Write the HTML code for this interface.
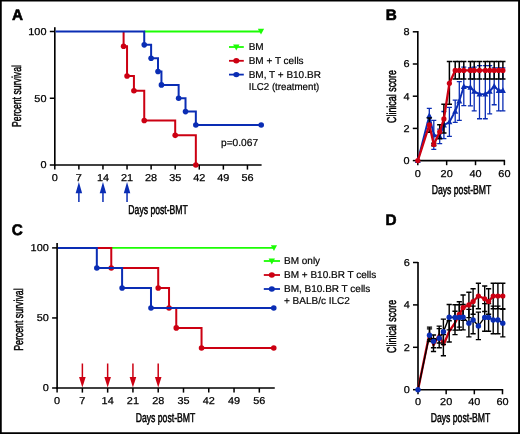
<!DOCTYPE html>
<html lang="en">
<head>
<meta charset="utf-8">
<title>Survival and clinical score after BMT</title>
<style>
html,body{margin:0;padding:0;background:#fff;}
body{width:520px;height:434px;overflow:hidden;}
svg{display:block;font-family:"Liberation Sans",sans-serif;text-rendering:geometricPrecision;}
</style>
</head>
<body>
<svg width="520" height="434" viewBox="0 0 520 434">
<rect x="0" y="0" width="520" height="434" fill="#fff"/>
<text x="11.90" y="20.40" font-size="15.3" text-anchor="start" font-weight="bold" fill="#000" stroke="#000" stroke-width="0.6" stroke-linejoin="round">A</text>
<path d="M54.8,27.2 V165.825" stroke="#000" stroke-width="1.65" fill="none"/>
<path d="M53.974999999999994,165 H261.6" stroke="#000" stroke-width="1.65" fill="none"/>
<path d="M49.8,165.0 H54.8" stroke="#000" stroke-width="1.5"/>
<text transform="translate(46.50,168.40) scale(1.09,1)" font-size="10.0" text-anchor="end" font-weight="normal" fill="#000" stroke="#000" stroke-width="0.25">0</text>
<path d="M49.8,98.25 H54.8" stroke="#000" stroke-width="1.5"/>
<text transform="translate(46.50,101.65) scale(1.09,1)" font-size="10.0" text-anchor="end" font-weight="normal" fill="#000" stroke="#000" stroke-width="0.25">50</text>
<path d="M49.8,31.5 H54.8" stroke="#000" stroke-width="1.5"/>
<text transform="translate(46.50,34.90) scale(1.09,1)" font-size="10.0" text-anchor="end" font-weight="normal" fill="#000" stroke="#000" stroke-width="0.25">100</text>
<path d="M54.80,165 V169.6" stroke="#000" stroke-width="1.5"/>
<text transform="translate(54.80,181.00) scale(1.09,1)" font-size="10.0" text-anchor="middle" font-weight="normal" fill="#000" stroke="#000" stroke-width="0.25">0</text>
<path d="M78.88,165 V169.6" stroke="#000" stroke-width="1.5"/>
<text transform="translate(78.88,181.00) scale(1.09,1)" font-size="10.0" text-anchor="middle" font-weight="normal" fill="#000" stroke="#000" stroke-width="0.25">7</text>
<path d="M102.96,165 V169.6" stroke="#000" stroke-width="1.5"/>
<text transform="translate(102.96,181.00) scale(1.09,1)" font-size="10.0" text-anchor="middle" font-weight="normal" fill="#000" stroke="#000" stroke-width="0.25">14</text>
<path d="M127.04,165 V169.6" stroke="#000" stroke-width="1.5"/>
<text transform="translate(127.04,181.00) scale(1.09,1)" font-size="10.0" text-anchor="middle" font-weight="normal" fill="#000" stroke="#000" stroke-width="0.25">21</text>
<path d="M151.12,165 V169.6" stroke="#000" stroke-width="1.5"/>
<text transform="translate(151.12,181.00) scale(1.09,1)" font-size="10.0" text-anchor="middle" font-weight="normal" fill="#000" stroke="#000" stroke-width="0.25">28</text>
<path d="M175.20,165 V169.6" stroke="#000" stroke-width="1.5"/>
<text transform="translate(175.20,181.00) scale(1.09,1)" font-size="10.0" text-anchor="middle" font-weight="normal" fill="#000" stroke="#000" stroke-width="0.25">35</text>
<path d="M199.28,165 V169.6" stroke="#000" stroke-width="1.5"/>
<text transform="translate(199.28,181.00) scale(1.09,1)" font-size="10.0" text-anchor="middle" font-weight="normal" fill="#000" stroke="#000" stroke-width="0.25">42</text>
<path d="M223.36,165 V169.6" stroke="#000" stroke-width="1.5"/>
<text transform="translate(223.36,181.00) scale(1.09,1)" font-size="10.0" text-anchor="middle" font-weight="normal" fill="#000" stroke="#000" stroke-width="0.25">49</text>
<path d="M247.44,165 V169.6" stroke="#000" stroke-width="1.5"/>
<text transform="translate(247.44,181.00) scale(1.09,1)" font-size="10.0" text-anchor="middle" font-weight="normal" fill="#000" stroke="#000" stroke-width="0.25">56</text>
<path d="M144.24,31.50 H261.20" stroke="#1cfd05" stroke-width="1.8" fill="none" stroke-linejoin="miter"/>
<path d="M257.85,28.64 H264.15 L261.00,34.47 Z" fill="#1cfd05"/>
<path d="M123.60,31.50 H123.60 V46.19 H127.04 V75.96 H133.92 V90.77 H144.24 V120.54 H175.20 V135.36 H195.84 V165.00 H195.84" stroke="#cc0012" stroke-width="2.0" fill="none" stroke-linejoin="miter"/>
<path d="M55.62,31.50 H144.24 V44.85 H151.12 V58.20 H158.00 V71.55 H161.44 V84.90 H178.64 V98.25 H185.52 V111.60 H195.84 V124.95 H261.20" stroke="#0a2db4" stroke-width="2.0" fill="none" stroke-linejoin="miter"/>
<circle cx="123.60" cy="46.19" r="2.8" fill="#cc0012"/>
<circle cx="127.04" cy="75.96" r="2.8" fill="#cc0012"/>
<circle cx="133.92" cy="90.77" r="2.8" fill="#cc0012"/>
<circle cx="144.24" cy="120.54" r="2.8" fill="#cc0012"/>
<circle cx="175.20" cy="135.36" r="2.8" fill="#cc0012"/>
<circle cx="195.84" cy="165.00" r="2.8" fill="#cc0012"/>
<circle cx="144.24" cy="44.85" r="2.8" fill="#0a2db4"/>
<circle cx="151.12" cy="58.20" r="2.8" fill="#0a2db4"/>
<circle cx="158.00" cy="71.55" r="2.8" fill="#0a2db4"/>
<circle cx="161.44" cy="84.90" r="2.8" fill="#0a2db4"/>
<circle cx="178.64" cy="98.25" r="2.8" fill="#0a2db4"/>
<circle cx="185.52" cy="111.60" r="2.8" fill="#0a2db4"/>
<circle cx="195.84" cy="124.95" r="2.8" fill="#0a2db4"/>
<circle cx="261.20" cy="124.95" r="2.8" fill="#0a2db4"/>
<path d="M78.88,182.0 L82.13,193.2 H75.63 Z" fill="#0a2db4"/>
<path d="M78.88,192.2 V202" stroke="#0a2db4" stroke-width="1.5"/>
<path d="M102.96,182.0 L106.21,193.2 H99.71 Z" fill="#0a2db4"/>
<path d="M102.96,192.2 V202" stroke="#0a2db4" stroke-width="1.5"/>
<path d="M127.04,182.0 L130.29,193.2 H123.79 Z" fill="#0a2db4"/>
<path d="M127.04,192.2 V202" stroke="#0a2db4" stroke-width="1.5"/>
<text x="158.1" y="214.3" font-size="12.9" text-anchor="middle" textLength="59.5" lengthAdjust="spacingAndGlyphs" stroke="#000" stroke-width="0.5">Days post-BMT</text>
<text transform="translate(21.0,96) rotate(-90)" font-size="12.9" text-anchor="middle" textLength="62" lengthAdjust="spacingAndGlyphs" stroke="#000" stroke-width="0.5">Percent survival</text>
<text x="221.00" y="146.00" font-size="10.2" text-anchor="start" font-weight="normal" fill="#000" stroke="#000" stroke-width="0.2">p=0.067</text>
<path d="M229.0,47 H243.8" stroke="#1cfd05" stroke-width="1.8"/>
<path d="M233.10,44.60 H239.50 L236.30,50.52 Z" fill="#1cfd05"/>
<text x="248.70" y="49.90" font-size="10" text-anchor="start" font-weight="normal" fill="#000" stroke="#000" stroke-width="0.2">BM</text>
<path d="M229.0,60.8 H243.8" stroke="#cc0012" stroke-width="1.8"/>
<ellipse cx="236.3" cy="60.8" rx="3.0" ry="2.7" fill="#cc0012"/>
<text x="248.70" y="63.80" font-size="10" text-anchor="start" font-weight="normal" fill="#000" stroke="#000" stroke-width="0.2">BM + T cells</text>
<path d="M229.0,74.6 H243.8" stroke="#0a2db4" stroke-width="1.8"/>
<ellipse cx="236.3" cy="74.6" rx="3.0" ry="2.7" fill="#0a2db4"/>
<text x="248.70" y="77.60" font-size="10" text-anchor="start" font-weight="normal" fill="#000" stroke="#000" stroke-width="0.2">BM, T + B10.BR</text>
<text transform="translate(248.70,90.10) scale(0.97,1)" font-size="10" text-anchor="start" font-weight="normal" fill="#000" stroke="#000" stroke-width="0.2">ILC2 (treatment)</text>
<text x="11.70" y="234.90" font-size="15.3" text-anchor="start" font-weight="bold" fill="#000" stroke="#000" stroke-width="0.6" stroke-linejoin="round">C</text>
<path d="M57.1,243.1 V388.825" stroke="#000" stroke-width="1.65" fill="none"/>
<path d="M56.275,388 H274.76000000000005" stroke="#000" stroke-width="1.65" fill="none"/>
<path d="M52.1,388.0 H57.1" stroke="#000" stroke-width="1.5"/>
<text transform="translate(48.80,391.40) scale(1.09,1)" font-size="10.0" text-anchor="end" font-weight="normal" fill="#000" stroke="#000" stroke-width="0.25">0</text>
<path d="M52.1,317.95 H57.1" stroke="#000" stroke-width="1.5"/>
<text transform="translate(48.80,321.35) scale(1.09,1)" font-size="10.0" text-anchor="end" font-weight="normal" fill="#000" stroke="#000" stroke-width="0.25">50</text>
<path d="M52.1,247.9 H57.1" stroke="#000" stroke-width="1.5"/>
<text transform="translate(48.80,251.30) scale(1.09,1)" font-size="10.0" text-anchor="end" font-weight="normal" fill="#000" stroke="#000" stroke-width="0.25">100</text>
<path d="M57.10,388 V392.6" stroke="#000" stroke-width="1.5"/>
<text transform="translate(57.10,404.00) scale(1.09,1)" font-size="10.0" text-anchor="middle" font-weight="normal" fill="#000" stroke="#000" stroke-width="0.25">0</text>
<path d="M82.38,388 V392.6" stroke="#000" stroke-width="1.5"/>
<text transform="translate(82.38,404.00) scale(1.09,1)" font-size="10.0" text-anchor="middle" font-weight="normal" fill="#000" stroke="#000" stroke-width="0.25">7</text>
<path d="M107.65,388 V392.6" stroke="#000" stroke-width="1.5"/>
<text transform="translate(107.65,404.00) scale(1.09,1)" font-size="10.0" text-anchor="middle" font-weight="normal" fill="#000" stroke="#000" stroke-width="0.25">14</text>
<path d="M132.93,388 V392.6" stroke="#000" stroke-width="1.5"/>
<text transform="translate(132.93,404.00) scale(1.09,1)" font-size="10.0" text-anchor="middle" font-weight="normal" fill="#000" stroke="#000" stroke-width="0.25">21</text>
<path d="M158.21,388 V392.6" stroke="#000" stroke-width="1.5"/>
<text transform="translate(158.21,404.00) scale(1.09,1)" font-size="10.0" text-anchor="middle" font-weight="normal" fill="#000" stroke="#000" stroke-width="0.25">28</text>
<path d="M183.49,388 V392.6" stroke="#000" stroke-width="1.5"/>
<text transform="translate(183.49,404.00) scale(1.09,1)" font-size="10.0" text-anchor="middle" font-weight="normal" fill="#000" stroke="#000" stroke-width="0.25">35</text>
<path d="M208.76,388 V392.6" stroke="#000" stroke-width="1.5"/>
<text transform="translate(208.76,404.00) scale(1.09,1)" font-size="10.0" text-anchor="middle" font-weight="normal" fill="#000" stroke="#000" stroke-width="0.25">42</text>
<path d="M234.04,388 V392.6" stroke="#000" stroke-width="1.5"/>
<text transform="translate(234.04,404.00) scale(1.09,1)" font-size="10.0" text-anchor="middle" font-weight="normal" fill="#000" stroke="#000" stroke-width="0.25">49</text>
<path d="M259.32,388 V392.6" stroke="#000" stroke-width="1.5"/>
<text transform="translate(259.32,404.00) scale(1.09,1)" font-size="10.0" text-anchor="middle" font-weight="normal" fill="#000" stroke="#000" stroke-width="0.25">56</text>
<path d="M111.27,247.90 H273.76" stroke="#1cfd05" stroke-width="1.8" fill="none" stroke-linejoin="miter"/>
<path d="M96.82,247.90 H111.27 V267.93 H158.21 V287.97 H169.04 V308.00 H176.26 V327.90 H201.54 V347.93 H273.76" stroke="#cc0012" stroke-width="2.0" fill="none" stroke-linejoin="miter"/>
<circle cx="111.27" cy="267.93" r="2.8" fill="#cc0012"/>
<circle cx="158.21" cy="287.97" r="2.8" fill="#cc0012"/>
<circle cx="169.04" cy="308.00" r="2.8" fill="#cc0012"/>
<circle cx="176.26" cy="327.90" r="2.8" fill="#cc0012"/>
<circle cx="201.54" cy="347.93" r="2.8" fill="#cc0012"/>
<circle cx="273.76" cy="347.93" r="2.8" fill="#cc0012"/>
<path d="M57.93,247.90 H96.82 V267.93 H122.10 V287.97 H150.99 V308.00 H273.76" stroke="#0a2db4" stroke-width="2.0" fill="none" stroke-linejoin="miter"/>
<circle cx="96.82" cy="267.93" r="2.8" fill="#0a2db4"/>
<circle cx="122.10" cy="287.97" r="2.8" fill="#0a2db4"/>
<circle cx="150.99" cy="308.00" r="2.8" fill="#0a2db4"/>
<circle cx="273.76" cy="308.00" r="2.8" fill="#0a2db4"/>
<path d="M270.86,245.18 H277.06 L273.96,250.91 Z" fill="#1cfd05"/>
<path d="M82.38,387.6 L85.68,377.0 H79.08 Z" fill="#cc0012"/>
<path d="M82.38,378.0 V363.5" stroke="#cc0012" stroke-width="1.5"/>
<path d="M107.65,387.6 L110.95,377.0 H104.35 Z" fill="#cc0012"/>
<path d="M107.65,378.0 V363.5" stroke="#cc0012" stroke-width="1.5"/>
<path d="M132.93,387.6 L136.23,377.0 H129.63 Z" fill="#cc0012"/>
<path d="M132.93,378.0 V363.5" stroke="#cc0012" stroke-width="1.5"/>
<path d="M158.21,387.6 L161.51,377.0 H154.91 Z" fill="#cc0012"/>
<path d="M158.21,378.0 V363.5" stroke="#cc0012" stroke-width="1.5"/>
<text x="165.5" y="422.3" font-size="12.9" text-anchor="middle" textLength="59.5" lengthAdjust="spacingAndGlyphs" stroke="#000" stroke-width="0.5">Days post-BMT</text>
<text transform="translate(22.6,319.6) rotate(-90)" font-size="12.9" text-anchor="middle" textLength="62.4" lengthAdjust="spacingAndGlyphs" stroke="#000" stroke-width="0.5">Percent survival</text>
<path d="M263.8,261 H280.0" stroke="#1cfd05" stroke-width="1.8"/>
<path d="M268.60,258.60 H275.00 L271.80,264.52 Z" fill="#1cfd05"/>
<text x="284.00" y="264.20" font-size="10" text-anchor="start" font-weight="normal" fill="#000" stroke="#000" stroke-width="0.2">BM only</text>
<path d="M263.8,275 H280.0" stroke="#cc0012" stroke-width="1.8"/>
<ellipse cx="271.8" cy="275" rx="3.0" ry="2.7" fill="#cc0012"/>
<text x="284.00" y="278.20" font-size="10" text-anchor="start" font-weight="normal" fill="#000" stroke="#000" stroke-width="0.2">BM + B10.BR T cells</text>
<path d="M263.8,289 H280.0" stroke="#0a2db4" stroke-width="1.8"/>
<ellipse cx="271.8" cy="289" rx="3.0" ry="2.7" fill="#0a2db4"/>
<text x="284.00" y="292.20" font-size="10" text-anchor="start" font-weight="normal" fill="#000" stroke="#000" stroke-width="0.2">BM, B10.BR T cells</text>
<text x="284.00" y="304.40" font-size="10" text-anchor="start" font-weight="normal" fill="#000" stroke="#000" stroke-width="0.2">+ BALB/c ILC2</text>
<text x="385.70" y="20.30" font-size="15.3" text-anchor="start" font-weight="bold" fill="#000" stroke="#000" stroke-width="0.6" stroke-linejoin="round">B</text>
<path d="M417.8,31.0 V161.42499999999998" stroke="#000" stroke-width="1.65" fill="none"/>
<path d="M416.975,160.6 H505.08" stroke="#000" stroke-width="1.65" fill="none"/>
<path d="M412.8,160.60 H417.8" stroke="#000" stroke-width="1.5"/>
<text transform="translate(409.50,164.00) scale(1.09,1)" font-size="10.0" text-anchor="end" font-weight="normal" fill="#000" stroke="#000" stroke-width="0.25">0</text>
<path d="M412.8,128.40 H417.8" stroke="#000" stroke-width="1.5"/>
<text transform="translate(409.50,131.80) scale(1.09,1)" font-size="10.0" text-anchor="end" font-weight="normal" fill="#000" stroke="#000" stroke-width="0.25">2</text>
<path d="M412.8,96.20 H417.8" stroke="#000" stroke-width="1.5"/>
<text transform="translate(409.50,99.60) scale(1.09,1)" font-size="10.0" text-anchor="end" font-weight="normal" fill="#000" stroke="#000" stroke-width="0.25">4</text>
<path d="M412.8,64.00 H417.8" stroke="#000" stroke-width="1.5"/>
<text transform="translate(409.50,67.40) scale(1.09,1)" font-size="10.0" text-anchor="end" font-weight="normal" fill="#000" stroke="#000" stroke-width="0.25">6</text>
<path d="M412.8,31.80 H417.8" stroke="#000" stroke-width="1.5"/>
<text transform="translate(409.50,35.20) scale(1.09,1)" font-size="10.0" text-anchor="end" font-weight="normal" fill="#000" stroke="#000" stroke-width="0.25">8</text>
<path d="M417.80,160.6 V165.2" stroke="#000" stroke-width="1.5"/>
<text transform="translate(417.80,176.60) scale(1.09,1)" font-size="10.0" text-anchor="middle" font-weight="normal" fill="#000" stroke="#000" stroke-width="0.25">0</text>
<path d="M446.66,160.6 V165.2" stroke="#000" stroke-width="1.5"/>
<text transform="translate(446.66,176.60) scale(1.09,1)" font-size="10.0" text-anchor="middle" font-weight="normal" fill="#000" stroke="#000" stroke-width="0.25">20</text>
<path d="M475.52,160.6 V165.2" stroke="#000" stroke-width="1.5"/>
<text transform="translate(475.52,176.60) scale(1.09,1)" font-size="10.0" text-anchor="middle" font-weight="normal" fill="#000" stroke="#000" stroke-width="0.25">40</text>
<path d="M504.38,160.6 V165.2" stroke="#000" stroke-width="1.5"/>
<text transform="translate(504.38,176.60) scale(1.09,1)" font-size="10.0" text-anchor="middle" font-weight="normal" fill="#000" stroke="#000" stroke-width="0.25">60</text>
<path d="M429.30,108.44 V122.93 M426.80,108.44 H431.80 M426.80,122.93 H431.80" stroke="#0a2db4" stroke-width="1.3" fill="none"/>
<path d="M433.80,120.35 V149.33 M431.30,120.35 H436.30 M431.30,149.33 H436.30" stroke="#0a2db4" stroke-width="1.3" fill="none"/>
<path d="M439.70,129.20 V143.53 M437.20,129.20 H442.20 M437.20,143.53 H442.20" stroke="#0a2db4" stroke-width="1.3" fill="none"/>
<path d="M443.90,111.49 V138.70 M441.40,111.49 H446.40 M441.40,138.70 H446.40" stroke="#0a2db4" stroke-width="1.3" fill="none"/>
<path d="M449.40,107.47 V136.45 M446.90,107.47 H451.90 M446.90,136.45 H451.90" stroke="#0a2db4" stroke-width="1.3" fill="none"/>
<path d="M455.20,100.22 V122.44 M452.70,100.22 H457.70 M452.70,122.44 H457.70" stroke="#0a2db4" stroke-width="1.3" fill="none"/>
<path d="M459.30,81.71 V120.35 M456.80,81.71 H461.80 M456.80,120.35 H461.80" stroke="#0a2db4" stroke-width="1.3" fill="none"/>
<path d="M463.80,67.22 V105.54 M461.30,67.22 H466.30 M461.30,105.54 H466.30" stroke="#0a2db4" stroke-width="1.3" fill="none"/>
<path d="M470.40,68.02 V105.86 M467.90,68.02 H472.90 M467.90,105.86 H472.90" stroke="#0a2db4" stroke-width="1.3" fill="none"/>
<path d="M474.20,67.22 V110.85 M471.70,67.22 H476.70 M471.70,110.85 H476.70" stroke="#0a2db4" stroke-width="1.3" fill="none"/>
<path d="M479.50,65.61 V118.74 M477.00,65.61 H482.00 M477.00,118.74 H482.00" stroke="#0a2db4" stroke-width="1.3" fill="none"/>
<path d="M485.30,65.61 V118.74 M482.80,65.61 H487.80 M482.80,118.74 H487.80" stroke="#0a2db4" stroke-width="1.3" fill="none"/>
<path d="M489.70,65.61 V113.91 M487.20,65.61 H492.20 M487.20,113.91 H492.20" stroke="#0a2db4" stroke-width="1.3" fill="none"/>
<path d="M494.20,67.86 V104.73 M491.70,67.86 H496.70 M491.70,104.73 H496.70" stroke="#0a2db4" stroke-width="1.3" fill="none"/>
<path d="M498.70,67.86 V110.85 M496.20,67.86 H501.20 M496.20,110.85 H501.20" stroke="#0a2db4" stroke-width="1.3" fill="none"/>
<path d="M502.90,67.86 V110.85 M500.40,67.86 H505.40 M500.40,110.85 H505.40" stroke="#0a2db4" stroke-width="1.3" fill="none"/>
<path d="M417.80,160.60 L429.30,115.68 L433.80,134.84 L439.70,136.45 L443.90,125.18 L449.40,121.96 L455.20,111.33 L459.30,101.03 L463.80,86.54 L470.40,87.34 L474.20,91.37 L479.50,94.11 L485.30,94.11 L489.70,91.37 L494.20,86.22 L498.70,90.56 L502.90,90.56" stroke="#0a2db4" stroke-width="1.9" fill="none" stroke-linejoin="round"/>
<path d="M414.80,163.00 H420.80 L417.80,157.30 Z" fill="#0a2db4"/>
<path d="M426.30,118.08 H432.30 L429.30,112.38 Z" fill="#0a2db4"/>
<path d="M430.80,137.24 H436.80 L433.80,131.54 Z" fill="#0a2db4"/>
<path d="M436.70,138.85 H442.70 L439.70,133.15 Z" fill="#0a2db4"/>
<path d="M440.90,127.58 H446.90 L443.90,121.88 Z" fill="#0a2db4"/>
<path d="M446.40,124.36 H452.40 L449.40,118.66 Z" fill="#0a2db4"/>
<path d="M452.20,113.73 H458.20 L455.20,108.03 Z" fill="#0a2db4"/>
<path d="M456.30,103.43 H462.30 L459.30,97.73 Z" fill="#0a2db4"/>
<path d="M460.80,88.94 H466.80 L463.80,83.24 Z" fill="#0a2db4"/>
<path d="M467.40,89.74 H473.40 L470.40,84.04 Z" fill="#0a2db4"/>
<path d="M471.20,93.77 H477.20 L474.20,88.07 Z" fill="#0a2db4"/>
<path d="M476.50,96.51 H482.50 L479.50,90.81 Z" fill="#0a2db4"/>
<path d="M482.30,96.51 H488.30 L485.30,90.81 Z" fill="#0a2db4"/>
<path d="M486.70,93.77 H492.70 L489.70,88.07 Z" fill="#0a2db4"/>
<path d="M491.20,88.62 H497.20 L494.20,82.92 Z" fill="#0a2db4"/>
<path d="M495.70,92.97 H501.70 L498.70,87.27 Z" fill="#0a2db4"/>
<path d="M499.90,92.97 H505.90 L502.90,87.27 Z" fill="#0a2db4"/>
<path d="M429.30,117.94 V132.26 M426.70,117.94 H431.90 M426.70,132.26 H431.90" stroke="#000" stroke-width="1.5" fill="none"/>
<path d="M433.80,143.37 V145.63 M431.20,143.37 H436.40 M431.20,145.63 H436.40" stroke="#000" stroke-width="1.5" fill="none"/>
<path d="M439.70,124.70 V138.86 M437.10,124.70 H442.30 M437.10,138.86 H442.30" stroke="#000" stroke-width="1.5" fill="none"/>
<path d="M443.90,104.25 V133.07 M441.30,104.25 H446.50 M441.30,133.07 H446.50" stroke="#000" stroke-width="1.5" fill="none"/>
<path d="M449.40,61.58 V104.25 M446.80,61.58 H452.00 M446.80,104.25 H452.00" stroke="#000" stroke-width="1.5" fill="none"/>
<path d="M455.20,61.58 V78.97 M452.60,61.58 H457.80 M452.60,78.97 H457.80" stroke="#000" stroke-width="1.5" fill="none"/>
<path d="M459.30,61.58 V78.97 M456.70,61.58 H461.90 M456.70,78.97 H461.90" stroke="#000" stroke-width="1.5" fill="none"/>
<path d="M463.80,61.58 V78.97 M461.20,61.58 H466.40 M461.20,78.97 H466.40" stroke="#000" stroke-width="1.5" fill="none"/>
<path d="M470.40,61.58 V78.97 M467.80,61.58 H473.00 M467.80,78.97 H473.00" stroke="#000" stroke-width="1.5" fill="none"/>
<path d="M474.20,61.58 V78.97 M471.60,61.58 H476.80 M471.60,78.97 H476.80" stroke="#000" stroke-width="1.5" fill="none"/>
<path d="M479.50,61.58 V78.97 M476.90,61.58 H482.10 M476.90,78.97 H482.10" stroke="#000" stroke-width="1.5" fill="none"/>
<path d="M485.30,61.58 V78.97 M482.70,61.58 H487.90 M482.70,78.97 H487.90" stroke="#000" stroke-width="1.5" fill="none"/>
<path d="M489.70,61.58 V78.97 M487.10,61.58 H492.30 M487.10,78.97 H492.30" stroke="#000" stroke-width="1.5" fill="none"/>
<path d="M494.20,61.58 V78.97 M491.60,61.58 H496.80 M491.60,78.97 H496.80" stroke="#000" stroke-width="1.5" fill="none"/>
<path d="M498.70,61.58 V78.97 M496.10,61.58 H501.30 M496.10,78.97 H501.30" stroke="#000" stroke-width="1.5" fill="none"/>
<path d="M502.90,61.58 V78.97 M500.30,61.58 H505.50 M500.30,78.97 H505.50" stroke="#000" stroke-width="1.5" fill="none"/>
<path d="M417.80,160.60 L429.30,124.86 L433.80,144.50 L439.70,131.78 L443.90,118.90 L449.40,83.32 L455.20,70.44 L459.30,70.44 L463.80,70.44 L470.40,70.44 L474.20,70.44 L479.50,70.44 L485.30,70.44 L489.70,70.44 L494.20,70.44 L498.70,70.44 L502.90,70.44" stroke="#cc0012" stroke-width="2.3" fill="none" stroke-linejoin="round"/>
<circle cx="417.80" cy="160.60" r="2.6" fill="#cc0012"/>
<circle cx="429.30" cy="124.86" r="2.6" fill="#cc0012"/>
<circle cx="433.80" cy="144.50" r="2.6" fill="#cc0012"/>
<circle cx="439.70" cy="131.78" r="2.6" fill="#cc0012"/>
<circle cx="443.90" cy="118.90" r="2.6" fill="#cc0012"/>
<circle cx="449.40" cy="83.32" r="2.6" fill="#cc0012"/>
<circle cx="455.20" cy="70.44" r="2.6" fill="#cc0012"/>
<circle cx="459.30" cy="70.44" r="2.6" fill="#cc0012"/>
<circle cx="463.80" cy="70.44" r="2.6" fill="#cc0012"/>
<circle cx="470.40" cy="70.44" r="2.6" fill="#cc0012"/>
<circle cx="474.20" cy="70.44" r="2.6" fill="#cc0012"/>
<circle cx="479.50" cy="70.44" r="2.6" fill="#cc0012"/>
<circle cx="485.30" cy="70.44" r="2.6" fill="#cc0012"/>
<circle cx="489.70" cy="70.44" r="2.6" fill="#cc0012"/>
<circle cx="494.20" cy="70.44" r="2.6" fill="#cc0012"/>
<circle cx="498.70" cy="70.44" r="2.6" fill="#cc0012"/>
<circle cx="502.90" cy="70.44" r="2.6" fill="#cc0012"/>
<text x="461.5" y="193.7" font-size="12.9" text-anchor="middle" textLength="59.5" lengthAdjust="spacingAndGlyphs" stroke="#000" stroke-width="0.5">Days post-BMT</text>
<text transform="translate(395.5,96.5) rotate(-90)" font-size="12.9" text-anchor="middle" textLength="53" lengthAdjust="spacingAndGlyphs" stroke="#000" stroke-width="0.5">Clinical score</text>
<text x="385.60" y="225.10" font-size="15.3" text-anchor="start" font-weight="bold" fill="#000" stroke="#000" stroke-width="0.6" stroke-linejoin="round">D</text>
<path d="M418.0,261.9 V390.525" stroke="#000" stroke-width="1.65" fill="none"/>
<path d="M417.175,389.7 H503.18" stroke="#000" stroke-width="1.65" fill="none"/>
<path d="M413.0,389.70 H418.0" stroke="#000" stroke-width="1.5"/>
<text transform="translate(409.70,393.10) scale(1.09,1)" font-size="10.0" text-anchor="end" font-weight="normal" fill="#000" stroke="#000" stroke-width="0.25">0</text>
<path d="M413.0,347.30 H418.0" stroke="#000" stroke-width="1.5"/>
<text transform="translate(409.70,350.70) scale(1.09,1)" font-size="10.0" text-anchor="end" font-weight="normal" fill="#000" stroke="#000" stroke-width="0.25">2</text>
<path d="M413.0,304.90 H418.0" stroke="#000" stroke-width="1.5"/>
<text transform="translate(409.70,308.30) scale(1.09,1)" font-size="10.0" text-anchor="end" font-weight="normal" fill="#000" stroke="#000" stroke-width="0.25">4</text>
<path d="M413.0,262.50 H418.0" stroke="#000" stroke-width="1.5"/>
<text transform="translate(409.70,265.90) scale(1.09,1)" font-size="10.0" text-anchor="end" font-weight="normal" fill="#000" stroke="#000" stroke-width="0.25">6</text>
<path d="M418.00,389.7 V394.3" stroke="#000" stroke-width="1.5"/>
<text transform="translate(418.00,405.40) scale(1.09,1)" font-size="10.0" text-anchor="middle" font-weight="normal" fill="#000" stroke="#000" stroke-width="0.25">0</text>
<path d="M446.16,389.7 V394.3" stroke="#000" stroke-width="1.5"/>
<text transform="translate(446.16,405.40) scale(1.09,1)" font-size="10.0" text-anchor="middle" font-weight="normal" fill="#000" stroke="#000" stroke-width="0.25">20</text>
<path d="M474.32,389.7 V394.3" stroke="#000" stroke-width="1.5"/>
<text transform="translate(474.32,405.40) scale(1.09,1)" font-size="10.0" text-anchor="middle" font-weight="normal" fill="#000" stroke="#000" stroke-width="0.25">40</text>
<path d="M502.48,389.7 V394.3" stroke="#000" stroke-width="1.5"/>
<text transform="translate(502.48,405.40) scale(1.09,1)" font-size="10.0" text-anchor="middle" font-weight="normal" fill="#000" stroke="#000" stroke-width="0.25">60</text>
<path d="M418.00,389.70 L429.50,333.52 L433.50,345.18 L439.20,334.58 L443.40,345.18 L449.20,331.40 L455.00,322.92 L459.30,314.44 L463.10,307.66 L468.90,304.90 L473.10,301.51 L478.40,296.00 L484.70,298.75 L488.60,301.51 L493.20,296.00 L497.90,296.00 L502.80,296.00" stroke="#cc0012" stroke-width="2.4" fill="none" stroke-linejoin="round"/>
<path d="M418.00,389.70 L429.50,335.22 L433.50,341.36 L439.20,338.18 L443.40,331.82 L449.20,317.20 L455.00,317.41 L459.30,317.41 L463.10,317.20 L468.90,323.13 L473.10,319.95 L478.40,325.89 L484.70,317.41 L488.60,317.41 L493.20,319.95 L497.90,319.95 L502.80,323.13" stroke="#000" stroke-width="1.4" fill="none" stroke-linejoin="round"/>
<path d="M429.50,328.86 V341.58 M426.90,328.86 H432.10 M426.90,341.58 H432.10" stroke="#000" stroke-width="1.4" fill="none"/>
<path d="M433.50,335.00 V347.72 M430.90,335.00 H436.10 M430.90,347.72 H436.10" stroke="#000" stroke-width="1.4" fill="none"/>
<path d="M439.20,328.64 V347.72 M436.60,328.64 H441.80 M436.60,347.72 H441.80" stroke="#000" stroke-width="1.4" fill="none"/>
<path d="M443.40,319.10 V344.54 M440.80,319.10 H446.00 M440.80,344.54 H446.00" stroke="#000" stroke-width="1.4" fill="none"/>
<path d="M449.20,304.48 V329.92 M446.60,304.48 H451.80 M446.60,329.92 H451.80" stroke="#000" stroke-width="1.4" fill="none"/>
<path d="M455.00,304.69 V330.13 M452.40,304.69 H457.60 M452.40,330.13 H457.60" stroke="#000" stroke-width="1.4" fill="none"/>
<path d="M459.30,304.69 V330.13 M456.70,304.69 H461.90 M456.70,330.13 H461.90" stroke="#000" stroke-width="1.4" fill="none"/>
<path d="M463.10,304.48 V329.92 M460.50,304.48 H465.70 M460.50,329.92 H465.70" stroke="#000" stroke-width="1.4" fill="none"/>
<path d="M468.90,309.35 V336.91 M466.30,309.35 H471.50 M466.30,336.91 H471.50" stroke="#000" stroke-width="1.4" fill="none"/>
<path d="M473.10,306.17 V333.73 M470.50,306.17 H475.70 M470.50,333.73 H475.70" stroke="#000" stroke-width="1.4" fill="none"/>
<path d="M478.40,312.11 V339.67 M475.80,312.11 H481.00 M475.80,339.67 H481.00" stroke="#000" stroke-width="1.4" fill="none"/>
<path d="M484.70,303.63 V331.19 M482.10,303.63 H487.30 M482.10,331.19 H487.30" stroke="#000" stroke-width="1.4" fill="none"/>
<path d="M488.60,303.63 V331.19 M486.00,303.63 H491.20 M486.00,331.19 H491.20" stroke="#000" stroke-width="1.4" fill="none"/>
<path d="M493.20,306.17 V333.73 M490.60,306.17 H495.80 M490.60,333.73 H495.80" stroke="#000" stroke-width="1.4" fill="none"/>
<path d="M497.90,306.17 V333.73 M495.30,306.17 H500.50 M495.30,333.73 H500.50" stroke="#000" stroke-width="1.4" fill="none"/>
<path d="M502.80,309.35 V336.91 M500.20,309.35 H505.40 M500.20,336.91 H505.40" stroke="#000" stroke-width="1.4" fill="none"/>
<path d="M429.50,327.16 V339.88 M426.90,327.16 H432.10 M426.90,339.88 H432.10" stroke="#000" stroke-width="1.4" fill="none"/>
<path d="M433.50,338.82 V351.54 M430.90,338.82 H436.10 M430.90,351.54 H436.10" stroke="#000" stroke-width="1.4" fill="none"/>
<path d="M439.20,326.10 V343.06 M436.60,326.10 H441.80 M436.60,343.06 H441.80" stroke="#000" stroke-width="1.4" fill="none"/>
<path d="M443.40,334.58 V355.78 M440.80,334.58 H446.00 M440.80,355.78 H446.00" stroke="#000" stroke-width="1.4" fill="none"/>
<path d="M449.20,320.80 V342.00 M446.60,320.80 H451.80 M446.60,342.00 H451.80" stroke="#000" stroke-width="1.4" fill="none"/>
<path d="M455.00,311.26 V334.58 M452.40,311.26 H457.60 M452.40,334.58 H457.60" stroke="#000" stroke-width="1.4" fill="none"/>
<path d="M459.30,301.72 V327.16 M456.70,301.72 H461.90 M456.70,327.16 H461.90" stroke="#000" stroke-width="1.4" fill="none"/>
<path d="M463.10,294.94 V320.38 M460.50,294.94 H465.70 M460.50,320.38 H465.70" stroke="#000" stroke-width="1.4" fill="none"/>
<path d="M468.90,292.18 V317.62 M466.30,292.18 H471.50 M466.30,317.62 H471.50" stroke="#000" stroke-width="1.4" fill="none"/>
<path d="M473.10,288.79 V314.23 M470.50,288.79 H475.70 M470.50,314.23 H475.70" stroke="#000" stroke-width="1.4" fill="none"/>
<path d="M478.40,283.28 V308.72 M475.80,283.28 H481.00 M475.80,308.72 H481.00" stroke="#000" stroke-width="1.4" fill="none"/>
<path d="M484.70,286.03 V311.47 M482.10,286.03 H487.30 M482.10,311.47 H487.30" stroke="#000" stroke-width="1.4" fill="none"/>
<path d="M488.60,288.79 V314.23 M486.00,288.79 H491.20 M486.00,314.23 H491.20" stroke="#000" stroke-width="1.4" fill="none"/>
<path d="M493.20,283.28 V308.72 M490.60,283.28 H495.80 M490.60,308.72 H495.80" stroke="#000" stroke-width="1.4" fill="none"/>
<path d="M497.90,283.28 V308.72 M495.30,283.28 H500.50 M495.30,308.72 H500.50" stroke="#000" stroke-width="1.4" fill="none"/>
<path d="M502.80,283.28 V308.72 M500.20,283.28 H505.40 M500.20,308.72 H505.40" stroke="#000" stroke-width="1.4" fill="none"/>
<circle cx="459.30" cy="314.44" r="2.6" fill="#cc0012"/>
<circle cx="463.10" cy="307.66" r="2.6" fill="#cc0012"/>
<circle cx="468.90" cy="304.90" r="2.6" fill="#cc0012"/>
<circle cx="473.10" cy="301.51" r="2.6" fill="#cc0012"/>
<circle cx="478.40" cy="296.00" r="2.6" fill="#cc0012"/>
<circle cx="484.70" cy="298.75" r="2.6" fill="#cc0012"/>
<circle cx="488.60" cy="301.51" r="2.6" fill="#cc0012"/>
<circle cx="493.20" cy="296.00" r="2.6" fill="#cc0012"/>
<circle cx="497.90" cy="296.00" r="2.6" fill="#cc0012"/>
<circle cx="502.80" cy="296.00" r="2.6" fill="#cc0012"/>
<circle cx="418.00" cy="389.70" r="2.7" fill="#0a2db4"/>
<circle cx="429.50" cy="335.22" r="2.7" fill="#0a2db4"/>
<circle cx="433.50" cy="341.36" r="2.7" fill="#0a2db4"/>
<circle cx="439.20" cy="338.18" r="2.7" fill="#0a2db4"/>
<circle cx="443.40" cy="331.82" r="2.7" fill="#0a2db4"/>
<circle cx="449.20" cy="317.20" r="2.7" fill="#0a2db4"/>
<circle cx="455.00" cy="317.41" r="2.7" fill="#0a2db4"/>
<circle cx="459.30" cy="317.41" r="2.7" fill="#0a2db4"/>
<circle cx="463.10" cy="317.20" r="2.7" fill="#0a2db4"/>
<circle cx="468.90" cy="323.13" r="2.7" fill="#0a2db4"/>
<circle cx="473.10" cy="319.95" r="2.7" fill="#0a2db4"/>
<circle cx="478.40" cy="325.89" r="2.7" fill="#0a2db4"/>
<circle cx="484.70" cy="317.41" r="2.7" fill="#0a2db4"/>
<circle cx="488.60" cy="317.41" r="2.7" fill="#0a2db4"/>
<circle cx="493.20" cy="319.95" r="2.7" fill="#0a2db4"/>
<circle cx="497.90" cy="319.95" r="2.7" fill="#0a2db4"/>
<circle cx="502.80" cy="323.13" r="2.7" fill="#0a2db4"/>
<text x="460.5" y="421.8" font-size="12.9" text-anchor="middle" textLength="59.5" lengthAdjust="spacingAndGlyphs" stroke="#000" stroke-width="0.5">Days post-BMT</text>
<text transform="translate(395.5,326.4) rotate(-90)" font-size="12.9" text-anchor="middle" textLength="53" lengthAdjust="spacingAndGlyphs" stroke="#000" stroke-width="0.5">Clinical score</text>
<path d="M0,0 H520 V434 H0 Z M1.75,1.6 V432.2 H518.1 V1.6 Z" fill="#000" fill-rule="evenodd"/>
</svg>
</body>
</html>
